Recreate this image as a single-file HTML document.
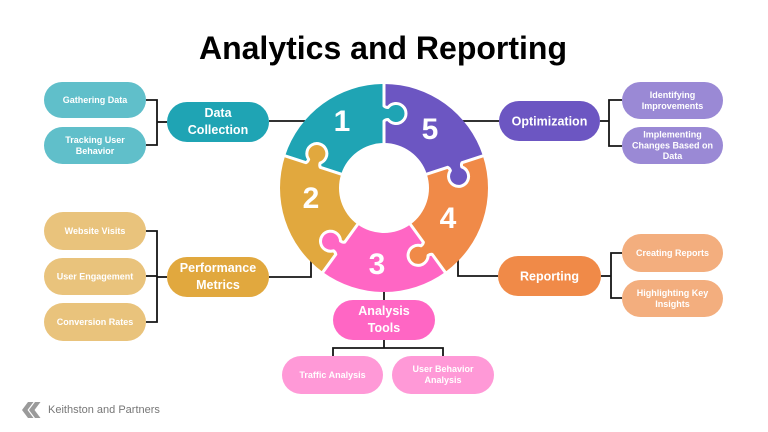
<!DOCTYPE html>
<html>
<head>
<meta charset="utf-8">
<style>
  html,body{margin:0;padding:0;background:#fff;}
  svg{display:block;}
  text{font-family:"Liberation Sans",sans-serif;}
</style>
</head>
<body>
<svg width="768" height="432" viewBox="0 0 768 432" xmlns="http://www.w3.org/2000/svg">
  <rect width="768" height="432" fill="#fff"/>

  <!-- Title -->
  <text x="383" y="59" font-size="32" font-weight="bold" fill="#000" text-anchor="middle">Analytics and Reporting</text>

  <!-- Connectors -->
  <g fill="none" stroke="#151515" stroke-width="1.8">
    <path d="M269,121 H305"/>
    <path d="M167,122 H157"/>
    <path d="M146,100 H157 V145 H146"/>

    <path d="M269,277 H311 V258"/>
    <path d="M167,277 H157"/>
    <path d="M146,231 H157 V322 H146"/>
    <path d="M146,276 H157"/>

    <path d="M462,121 H499"/>
    <path d="M600,121 H609"/>
    <path d="M622,100 H609 V146 H622"/>

    <path d="M458,258 V276 H498"/>
    <path d="M601,276 H611"/>
    <path d="M622,253 H611 V298 H622"/>

    <path d="M384,288 V300"/>
    <path d="M384,340 V348"/>
    <path d="M333,356 V348 H443 V356"/>
  </g>

  <!-- Wheel sectors -->
  <g>
    <path transform="translate(384,188) rotate(-90)" d="M104,0 A104,104 0 0 1 32.14,98.91 L13.91,42.80 A45,45 0 0 0 45,0 Z" fill="#6C56C2"/>
    <path transform="translate(384,188) rotate(-18)" d="M104,0 A104,104 0 0 1 32.14,98.91 L13.91,42.80 A45,45 0 0 0 45,0 Z" fill="#F08A48"/>
    <path transform="translate(384,188) rotate(54)" d="M104,0 A104,104 0 0 1 32.14,98.91 L13.91,42.80 A45,45 0 0 0 45,0 Z" fill="#FF66C4"/>
    <path transform="translate(384,188) rotate(126)" d="M104,0 A104,104 0 0 1 32.14,98.91 L13.91,42.80 A45,45 0 0 0 45,0 Z" fill="#E1A83E"/>
    <path transform="translate(384,188) rotate(198)" d="M104,0 A104,104 0 0 1 32.14,98.91 L13.91,42.80 A45,45 0 0 0 45,0 Z" fill="#1FA4B4"/>
  </g>

  <!-- Knob fills -->
  <path transform="translate(384,188) rotate(-90)" d="M67,-1.5 L67,0 Q68.5,1.5 68.5,4 A10,10 0 1 0 80.5,4 Q80.5,1.5 82,0 L82,-1.5 Z" fill="#1FA4B4"/>
  <path transform="translate(384,188) rotate(-18)" d="M67,-1.5 L67,0 Q68.5,1.5 68.5,4 A10,10 0 1 0 80.5,4 Q80.5,1.5 82,0 L82,-1.5 Z" fill="#6C56C2"/>
  <path transform="translate(384,188) rotate(54)" d="M67,-1.5 L67,0 Q68.5,1.5 68.5,4 A10,10 0 1 0 80.5,4 Q80.5,1.5 82,0 L82,-1.5 Z" fill="#F08A48"/>
  <path transform="translate(384,188) rotate(126)" d="M67,-1.5 L67,0 Q68.5,1.5 68.5,4 A10,10 0 1 0 80.5,4 Q80.5,1.5 82,0 L82,-1.5 Z" fill="#FF66C4"/>
  <path transform="translate(384,188) rotate(198)" d="M67,-1.5 L67,0 Q68.5,1.5 68.5,4 A10,10 0 1 0 80.5,4 Q80.5,1.5 82,0 L82,-1.5 Z" fill="#E1A83E"/>

  <!-- White separators -->
  <g fill="none" stroke="#fff" stroke-width="3" stroke-linejoin="round">
    <path transform="translate(384,188) rotate(-90)" d="M42,0 L67,0 Q68.5,1.5 68.5,4 A10,10 0 1 0 80.5,4 Q80.5,1.5 82,0 L107,0"/>
    <path transform="translate(384,188) rotate(-18)" d="M42,0 L67,0 Q68.5,1.5 68.5,4 A10,10 0 1 0 80.5,4 Q80.5,1.5 82,0 L107,0"/>
    <path transform="translate(384,188) rotate(54)" d="M42,0 L67,0 Q68.5,1.5 68.5,4 A10,10 0 1 0 80.5,4 Q80.5,1.5 82,0 L107,0"/>
    <path transform="translate(384,188) rotate(126)" d="M42,0 L67,0 Q68.5,1.5 68.5,4 A10,10 0 1 0 80.5,4 Q80.5,1.5 82,0 L107,0"/>
    <path transform="translate(384,188) rotate(198)" d="M42,0 L67,0 Q68.5,1.5 68.5,4 A10,10 0 1 0 80.5,4 Q80.5,1.5 82,0 L107,0"/>
  </g>

  <!-- Numbers -->
  <g fill="#fff" font-size="30" font-weight="bold" text-anchor="middle">
    <text x="342" y="131">1</text>
    <text x="430" y="139">5</text>
    <text x="448" y="228">4</text>
    <text x="377" y="274">3</text>
    <text x="311" y="208">2</text>
  </g>

  <!-- Main pills -->
  <rect x="167" y="102" width="102" height="40" rx="20" fill="#1FA4B4"/>
  <rect x="167" y="257" width="102" height="40" rx="20" fill="#E1A83E"/>
  <rect x="499" y="101" width="101" height="40" rx="20" fill="#6C56C2"/>
  <rect x="498" y="256" width="103" height="40" rx="20" fill="#F08A48"/>
  <rect x="333" y="300" width="102" height="40" rx="20" fill="#FF66C4"/>

  <g fill="#fff" font-size="12.5" font-weight="bold" text-anchor="middle">
    <text x="218" y="117">Data</text>
    <text x="218" y="134">Collection</text>
    <text x="218" y="272">Performance</text>
    <text x="218" y="289">Metrics</text>
    <text x="549.5" y="125.5">Optimization</text>
    <text x="549.5" y="280.5">Reporting</text>
    <text x="384" y="315">Analysis</text>
    <text x="384" y="332">Tools</text>
  </g>

  <!-- Child pills -->
  <rect x="44" y="82" width="102" height="36" rx="18" fill="#60BFCA"/>
  <rect x="44" y="127" width="102" height="37" rx="18.5" fill="#60BFCA"/>

  <rect x="44" y="212" width="102" height="38" rx="19" fill="#E9C37C"/>
  <rect x="44" y="258" width="102" height="37" rx="18.5" fill="#E9C37C"/>
  <rect x="44" y="303" width="102" height="38" rx="19" fill="#E9C37C"/>

  <rect x="622" y="82" width="101" height="37" rx="18.5" fill="#9A89D5"/>
  <rect x="622" y="127" width="101" height="37" rx="18.5" fill="#9A89D5"/>

  <rect x="622" y="234" width="101" height="38" rx="19" fill="#F3AE7E"/>
  <rect x="622" y="280" width="101" height="37" rx="18.5" fill="#F3AE7E"/>

  <rect x="282" y="356" width="101" height="38" rx="19" fill="#FF99D7"/>
  <rect x="392" y="356" width="102" height="38" rx="19" fill="#FF99D7"/>

  <g fill="#fff" font-size="9" font-weight="bold" text-anchor="middle">
    <text x="95" y="103">Gathering Data</text>
    <text x="95" y="143">Tracking User</text>
    <text x="95" y="154">Behavior</text>

    <text x="95" y="234">Website Visits</text>
    <text x="95" y="279.5">User Engagement</text>
    <text x="95" y="325">Conversion Rates</text>

    <text x="672.5" y="98">Identifying</text>
    <text x="672.5" y="109">Improvements</text>
    <text x="672.5" y="137.5">Implementing</text>
    <text x="672.5" y="148.3">Changes Based on</text>
    <text x="672.5" y="159">Data</text>

    <text x="672.5" y="256">Creating Reports</text>
    <text x="672.5" y="296">Highlighting Key</text>
    <text x="672.5" y="307">Insights</text>

    <text x="332.5" y="378">Traffic Analysis</text>
    <text x="443" y="372">User Behavior</text>
    <text x="443" y="383">Analysis</text>
  </g>

  <!-- Logo -->
  <g fill="#9a9a9a">
    <polygon points="28,402 33.5,402 27.5,410 33.5,418 28,418 22,410"/>
    <polygon points="35,402 40.5,402 34.5,410 40.5,418 35,418 29,410"/>
  </g>
  <text x="48" y="413" font-size="11" fill="#777">Keithston and Partners</text>
</svg>
</body>
</html>
